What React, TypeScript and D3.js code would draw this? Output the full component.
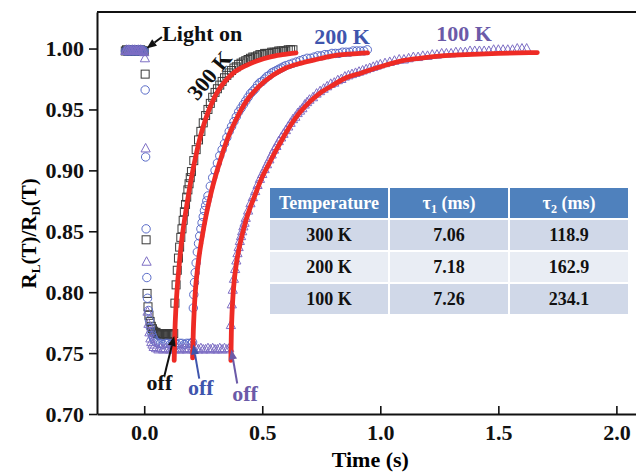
import { useEffect, useRef } from "react";
import * as d3 from "d3";

// chart size and margins
const width = 636;
const height = 475;
const margin = { top: 12, right: -4, bottom: 61, left: 97 };

const font = "'Liberation Serif', 'Times New Roman', serif";

// axis ticks
const xTicks = [0, 0.5, 1.0, 1.5, 2.0];
const yTicks = [0.7, 0.75, 0.8, 0.85, 0.9, 0.95, 1.0];

// 300 K data (squares): [time (s), RL/RD]
const sq300: [number, number][] = [
  [-0.08, 0.998], [-0.075, 0.999], [-0.07, 0.998], [-0.065, 0.998], [-0.06, 0.999], [-0.055, 0.998], [-0.05, 0.998],
  [-0.045, 0.999], [-0.04, 0.998], [-0.035, 0.998], [-0.03, 0.999], [-0.025, 0.998], [-0.02, 0.998], [-0.015, 0.999],
  [-0.01, 0.998], [-0.005, 0.998], [0.0, 0.998],
  [0.004, 0.979], [0.008, 0.843], [0.012, 0.799], [0.016, 0.788], [0.02, 0.781], [0.025, 0.776], [0.03, 0.772],
  [0.035, 0.77], [0.04, 0.768], [0.045, 0.767], [0.05, 0.767], [0.055, 0.766], [0.06, 0.766], [0.065, 0.766],
  [0.07, 0.765], [0.075, 0.766], [0.08, 0.766], [0.085, 0.765], [0.09, 0.766], [0.095, 0.766], [0.1, 0.765],
  [0.105, 0.766], [0.11, 0.766], [0.115, 0.765], [0.12, 0.766], [0.125, 0.766],
  [0.13, 0.791], [0.135, 0.806], [0.14, 0.818], [0.145, 0.828], [0.15, 0.837], [0.155, 0.845], [0.16, 0.852],
  [0.165, 0.859], [0.17, 0.866], [0.175, 0.872], [0.18, 0.878], [0.185, 0.884], [0.19, 0.889], [0.195, 0.894],
  [0.2, 0.899], [0.21, 0.908], [0.22, 0.917], [0.23, 0.925], [0.24, 0.932], [0.25, 0.939], [0.26, 0.945],
  [0.27, 0.95], [0.28, 0.955], [0.29, 0.96], [0.3, 0.964], [0.31, 0.967], [0.32, 0.97], [0.33, 0.973],
  [0.34, 0.976], [0.35, 0.978], [0.36, 0.98], [0.37, 0.982], [0.38, 0.984], [0.39, 0.985], [0.4, 0.987],
  [0.41, 0.988], [0.42, 0.989], [0.43, 0.99], [0.44, 0.991], [0.45, 0.992], [0.46, 0.993], [0.47, 0.993],
  [0.48, 0.994], [0.49, 0.995], [0.5, 0.995], [0.51, 0.996], [0.52, 0.996], [0.53, 0.996], [0.54, 0.997],
  [0.55, 0.997], [0.56, 0.997], [0.57, 0.998], [0.58, 0.998], [0.59, 0.998], [0.6, 0.998], [0.61, 0.999],
  [0.62, 0.999], [0.63, 0.999],
];

// 200 K data (circles)
const circ200: [number, number][] = [
  [-0.08, 0.998], [-0.075, 0.998], [-0.07, 0.999], [-0.065, 0.998], [-0.06, 0.998], [-0.055, 0.999], [-0.05, 0.998],
  [-0.045, 0.998], [-0.04, 0.999], [-0.035, 0.998], [-0.03, 0.998], [-0.025, 0.999], [-0.02, 0.998], [-0.015, 0.998],
  [-0.01, 0.999], [-0.005, 0.998], [0.0, 0.998],
  [0.004, 0.966], [0.006, 0.911], [0.008, 0.852], [0.011, 0.812], [0.014, 0.795], [0.018, 0.785], [0.022, 0.777],
  [0.026, 0.771], [0.03, 0.767], [0.035, 0.764], [0.04, 0.762], [0.045, 0.76], [0.05, 0.759], [0.06, 0.758],
  [0.07, 0.758], [0.08, 0.757], [0.09, 0.758], [0.1, 0.758], [0.11, 0.757], [0.12, 0.758], [0.13, 0.758],
  [0.14, 0.757], [0.15, 0.758], [0.16, 0.758], [0.17, 0.757], [0.18, 0.758], [0.19, 0.758], [0.2, 0.758],
  [0.205, 0.759],
  [0.208, 0.787], [0.21, 0.798], [0.213, 0.808], [0.216, 0.816], [0.22, 0.824], [0.225, 0.833], [0.23, 0.84],
  [0.235, 0.846], [0.24, 0.852], [0.245, 0.857], [0.25, 0.862], [0.255, 0.867], [0.26, 0.871], [0.265, 0.875],
  [0.27, 0.879], [0.28, 0.887], [0.29, 0.894], [0.3, 0.9], [0.31, 0.906], [0.32, 0.912], [0.33, 0.917],
  [0.34, 0.922], [0.35, 0.927], [0.36, 0.932], [0.37, 0.936], [0.38, 0.94], [0.39, 0.944], [0.4, 0.948],
  [0.41, 0.951], [0.42, 0.954], [0.43, 0.957], [0.44, 0.96], [0.45, 0.963], [0.46, 0.965], [0.47, 0.967],
  [0.48, 0.97], [0.49, 0.972], [0.5, 0.973], [0.51, 0.975], [0.52, 0.977], [0.53, 0.978], [0.54, 0.98],
  [0.55, 0.981], [0.56, 0.982], [0.57, 0.983], [0.58, 0.984], [0.59, 0.985], [0.6, 0.986], [0.615, 0.987],
  [0.63, 0.988], [0.645, 0.989], [0.66, 0.99], [0.675, 0.991], [0.69, 0.992], [0.705, 0.992], [0.72, 0.993],
  [0.735, 0.994], [0.75, 0.994], [0.765, 0.995], [0.78, 0.995], [0.795, 0.996], [0.81, 0.996], [0.825, 0.996],
  [0.84, 0.997], [0.855, 0.997], [0.87, 0.997], [0.885, 0.998], [0.9, 0.998], [0.915, 0.998], [0.93, 0.998],
  [0.945, 0.999],
];

// 100 K data (triangles)
const tri100: [number, number][] = [
  [-0.08, 0.998], [-0.075, 0.999], [-0.07, 0.998], [-0.065, 0.999], [-0.06, 0.998], [-0.055, 0.998], [-0.05, 0.999],
  [-0.045, 0.998], [-0.04, 0.999], [-0.035, 0.998], [-0.03, 0.998], [-0.025, 0.999], [-0.02, 0.998], [-0.015, 0.999],
  [-0.01, 0.998], [-0.005, 0.998], [0.0, 0.997],
  [0.003, 0.992], [0.006, 0.918], [0.01, 0.825], [0.014, 0.784], [0.018, 0.774], [0.022, 0.767], [0.026, 0.762],
  [0.03, 0.759], [0.035, 0.757], [0.04, 0.755], [0.05, 0.754], [0.06, 0.753], [0.07, 0.754], [0.08, 0.753],
  [0.09, 0.754], [0.1, 0.753], [0.11, 0.753], [0.12, 0.754], [0.13, 0.753], [0.14, 0.754], [0.15, 0.753],
  [0.16, 0.753], [0.17, 0.754], [0.18, 0.753], [0.19, 0.754], [0.2, 0.753], [0.21, 0.753], [0.22, 0.754],
  [0.23, 0.753], [0.24, 0.754], [0.25, 0.753], [0.26, 0.753], [0.27, 0.754], [0.28, 0.753], [0.29, 0.754],
  [0.3, 0.753], [0.31, 0.753], [0.32, 0.754], [0.33, 0.753], [0.34, 0.754], [0.35, 0.753], [0.36, 0.754],
  [0.367, 0.773], [0.371, 0.79], [0.375, 0.802], [0.38, 0.811], [0.385, 0.819], [0.39, 0.826], [0.395, 0.832],
  [0.4, 0.837], [0.405, 0.842], [0.41, 0.846], [0.415, 0.85], [0.42, 0.854], [0.425, 0.857], [0.43, 0.861],
  [0.44, 0.867], [0.45, 0.873], [0.46, 0.878], [0.47, 0.883], [0.48, 0.888], [0.49, 0.893], [0.5, 0.897],
  [0.51, 0.901], [0.52, 0.905], [0.53, 0.909], [0.54, 0.913], [0.55, 0.917], [0.56, 0.92], [0.57, 0.924],
  [0.58, 0.927], [0.59, 0.93], [0.6, 0.933], [0.61, 0.936], [0.62, 0.939], [0.63, 0.942], [0.64, 0.944],
  [0.65, 0.947], [0.66, 0.949], [0.67, 0.951], [0.68, 0.954], [0.69, 0.956], [0.7, 0.958], [0.715, 0.96],
  [0.73, 0.963], [0.745, 0.965], [0.76, 0.967], [0.775, 0.969], [0.79, 0.971], [0.805, 0.972], [0.82, 0.974],
  [0.835, 0.975], [0.85, 0.977], [0.865, 0.978], [0.88, 0.979], [0.895, 0.98], [0.91, 0.981], [0.925, 0.982],
  [0.94, 0.983], [0.955, 0.984], [0.97, 0.985], [0.985, 0.986], [1.0, 0.987], [1.02, 0.988], [1.04, 0.989],
  [1.06, 0.99], [1.08, 0.991], [1.1, 0.991], [1.12, 0.992], [1.14, 0.993], [1.16, 0.993], [1.18, 0.994],
  [1.2, 0.994], [1.22, 0.995], [1.24, 0.995], [1.26, 0.996], [1.28, 0.996], [1.3, 0.996], [1.32, 0.997],
  [1.34, 0.997], [1.36, 0.997], [1.38, 0.998], [1.4, 0.998], [1.42, 0.998], [1.44, 0.998], [1.46, 0.998],
  [1.48, 0.999], [1.5, 0.999], [1.52, 0.999], [1.54, 0.999], [1.56, 0.999], [1.58, 1.0], [1.6, 1.0], [1.62, 1.0],
];

// fitted recovery curves (red)
const fit300: [number, number][] = [
  [0.127, 0.744], [0.13, 0.768], [0.134, 0.786], [0.14, 0.804], [0.148, 0.822], [0.158, 0.841], [0.169, 0.857],
  [0.18, 0.871], [0.191, 0.884], [0.205, 0.899], [0.219, 0.912], [0.233, 0.924], [0.247, 0.934], [0.267, 0.946],
  [0.288, 0.956], [0.315, 0.966], [0.346, 0.974], [0.385, 0.981], [0.431, 0.986], [0.48, 0.99], [0.53, 0.993],
  [0.585, 0.995], [0.643, 0.9965],
];
const fit200: [number, number][] = [
  [0.205, 0.746], [0.208, 0.768], [0.212, 0.786], [0.217, 0.802], [0.224, 0.816], [0.232, 0.829], [0.245, 0.845],
  [0.261, 0.862], [0.28, 0.879], [0.3, 0.894], [0.325, 0.91], [0.355, 0.927], [0.39, 0.942], [0.43, 0.956],
  [0.487, 0.969], [0.545, 0.978], [0.6, 0.984], [0.665, 0.988], [0.728, 0.991], [0.8, 0.994], [0.87, 0.9955],
  [0.946, 0.9965],
];
const fit100: [number, number][] = [
  [0.367, 0.744], [0.369, 0.766], [0.372, 0.783], [0.376, 0.797], [0.381, 0.809], [0.39, 0.823], [0.403, 0.837],
  [0.416, 0.848], [0.431, 0.859], [0.448, 0.869], [0.466, 0.878], [0.494, 0.892], [0.53, 0.906], [0.56, 0.917],
  [0.586, 0.926], [0.62, 0.937], [0.657, 0.947], [0.7, 0.956], [0.742, 0.963], [0.8, 0.97], [0.855, 0.976],
  [0.92, 0.98], [0.982, 0.984], [1.081, 0.9895], [1.165, 0.992], [1.26, 0.994], [1.363, 0.995], [1.5, 0.996],
  [1.665, 0.9967],
];

// inset table
const tableTemp = ["300 K", "200 K", "100 K"];
const tableTau1 = ["7.06", "7.18", "7.26"];
const tableTau2 = ["118.9", "162.9", "234.1"];

const colors = {
  c300: "#3a3a3a",
  c200: "#5a6cc8",
  c100: "#7d6ec4",
  lab200: "#3f55ad",
  lab100: "#6b5aa8",
  fit: "#ee2b25",
};

// line with a filled arrow head at (x2, y2)
const arrow = (g, x1, y1, x2, y2, color) => {
  const ang = Math.atan2(y2 - y1, x2 - x1);
  const len = 10;
  const w = 4;
  const bx = x2 - len * Math.cos(ang);
  const by = y2 - len * Math.sin(ang);
  g.append("line")
    .attr("x1", x1).attr("y1", y1).attr("x2", bx).attr("y2", by)
    .attr("stroke", color).attr("stroke-width", 2);
  g.append("path")
    .attr("d", `M${x2},${y2}L${bx - w * Math.sin(ang)},${by + w * Math.cos(ang)}L${bx + w * Math.sin(ang)},${by - w * Math.cos(ang)}Z`)
    .attr("fill", color);
};

const drawChart = (node) => {
  const svg = d3.select(node);
  svg.selectAll("*").remove();

  const x = d3.scaleLinear().domain([-0.2, 2.1]).range([margin.left, width - margin.right]);
  const y = d3.scaleLinear().domain([0.7, 1.03]).range([height - margin.bottom, margin.top]);

  // axes
  const yAxis = svg.append("g")
    .attr("transform", `translate(${margin.left},0)`)
    .call(d3.axisLeft(y).tickValues(yTicks).tickFormat(d3.format(".2f")).tickSizeInner(8).tickSizeOuter(0).tickPadding(5));
  const xAxis = svg.append("g")
    .attr("transform", `translate(0,${height - margin.bottom})`)
    .call(d3.axisBottom(x).tickValues(xTicks).tickFormat(d3.format(".1f")).tickSizeInner(-8).tickSizeOuter(0).tickPadding(10));
  [xAxis, yAxis].forEach((a) => {
    a.select(".domain").attr("stroke", "#111").attr("stroke-width", 2);
    a.selectAll(".tick line").attr("stroke", "#111").attr("stroke-width", 1.6);
    a.selectAll(".tick text")
      .attr("fill", "#111")
      .attr("font-family", font)
      .attr("font-weight", "bold")
      .attr("font-size", 22);
  });
  svg.append("line")
    .attr("x1", margin.left).attr("x2", width - margin.right)
    .attr("y1", margin.top).attr("y2", margin.top)
    .attr("stroke", "#111").attr("stroke-width", 2);

  // axis titles
  svg.append("text")
    .attr("x", x(1.0) - 10)
    .attr("y", 467)
    .attr("text-anchor", "middle")
    .attr("font-family", font).attr("font-weight", "bold").attr("font-size", 22)
    .text("Time (s)");
  const yl = svg.append("text")
    .attr("transform", `translate(36,${y(0.85) + 2}) rotate(-90)`)
    .attr("text-anchor", "middle")
    .attr("font-family", font).attr("font-weight", "bold").attr("font-size", 21);
  yl.append("tspan").text("R");
  yl.append("tspan").attr("dy", 4).attr("font-size", 13).text("L");
  yl.append("tspan").attr("dy", -4).text("(T)/R");
  yl.append("tspan").attr("dy", 4).attr("font-size", 13).text("D");
  yl.append("tspan").attr("dy", -4).text("(T)");

  // markers
  const plot = svg.append("g");
  plot.append("g").selectAll("rect").data(sq300).join("rect")
    .attr("x", (d) => x(d[0]) - 4).attr("y", (d) => y(d[1]) - 4)
    .attr("width", 8).attr("height", 8)
    .attr("fill", "none").attr("stroke", colors.c300).attr("stroke-width", 1);
  plot.append("g").selectAll("circle").data(circ200).join("circle")
    .attr("cx", (d) => x(d[0])).attr("cy", (d) => y(d[1])).attr("r", 4.2)
    .attr("fill", "none").attr("stroke", colors.c200).attr("stroke-width", 1);
  plot.append("g").selectAll("path").data(tri100).join("path")
    .attr("d", (d) => `M${x(d[0])},${y(d[1]) - 5}l4.6,8.5h-9.2Z`)
    .attr("fill", "none").attr("stroke", colors.c100).attr("stroke-width", 1);

  // fits
  const line = d3.line().x((d) => x(d[0])).y((d) => y(d[1])).curve(d3.curveMonotoneX);
  [fit300, fit200, fit100].forEach((f) => {
    plot.append("path")
      .attr("d", line(f))
      .attr("fill", "none").attr("stroke", colors.fit).attr("stroke-width", 4.8)
      .attr("stroke-linecap", "round");
  });

  // annotations
  const label = (tx, ty, text, color, size = 22) => svg.append("text")
    .attr("x", x(tx)).attr("y", y(ty))
    .attr("font-family", font).attr("font-weight", "bold").attr("font-size", size)
    .attr("fill", color).text(text);

  label(0.076, 1.0066, "Light on", "#111");
  arrow(svg, x(0.075), y(1.0095), x(0.01), y(1.0), "#111");
  svg.append("text")
    .attr("transform", `translate(${x(0.275)},${y(0.978)}) rotate(-50)`)
    .attr("text-anchor", "middle").attr("dy", "0.35em")
    .attr("font-family", font).attr("font-weight", "bold").attr("font-size", 22)
    .attr("fill", "#111").text("300 K");
  label(0.72, 1.004, "200 K", colors.lab200);
  label(1.237, 1.0066, "100 K", colors.lab100);

  label(0.01, 0.72, "off", "#111");
  arrow(svg, x(0.085), y(0.731), x(0.127), y(0.764), "#111");
  label(0.185, 0.716, "off", colors.lab200);
  arrow(svg, x(0.233), y(0.729), x(0.208), y(0.757), colors.lab200);
  label(0.373, 0.711, "off", colors.lab100);
  arrow(svg, x(0.394), y(0.725), x(0.369), y(0.753), colors.lab100);

  // inset table
  const tx0 = 270;
  const ty0 = 188;
  const colW = 118;
  const gap = 2;
  const rowH = 30;
  const tbl = svg.append("g").attr("font-family", font).attr("font-weight", "bold").attr("text-anchor", "middle");
  tbl.append("rect")
    .attr("x", tx0 - 2).attr("y", ty0 - 2)
    .attr("width", 3 * colW + 2 * gap + 4).attr("height", 4 * rowH + 3 * gap + 4)
    .attr("fill", "#fff");
  const rowFill = ["#4f81bd", "#d0d8e8", "#e9edf4", "#d0d8e8"];
  const rows = [
    ["Temperature", "τ", "τ"],
    ...tableTemp.map((t, i) => [t, tableTau1[i], tableTau2[i]]),
  ];
  rows.forEach((row, r) => {
    const ry = ty0 + r * (rowH + gap);
    row.forEach((cell, c) => {
      const rx = tx0 + c * (colW + gap);
      tbl.append("rect")
        .attr("x", rx).attr("y", ry).attr("width", colW).attr("height", rowH)
        .attr("fill", rowFill[r]);
      const t = tbl.append("text")
        .attr("x", rx + colW / 2).attr("y", ry + rowH / 2 + 6)
        .attr("font-size", 18)
        .attr("fill", r === 0 ? "#fff" : "#111");
      if (r === 0 && c > 0) {
        t.append("tspan").text(cell);
        t.append("tspan").attr("dy", 4).attr("font-size", 12).text(String(c));
        t.append("tspan").attr("dy", -4).text(" (ms)");
      } else {
        t.text(cell);
      }
    });
  });
};

export default function App() {
  const ref = useRef(null);
  useEffect(() => {
    drawChart(ref.current);
  }, []);
  return (
    <svg
      ref={ref}
      width={width}
      height={height}
      style={{ position: "absolute", left: 0, top: 0, background: "#fff", display: "block" }}
    />
  );
}
